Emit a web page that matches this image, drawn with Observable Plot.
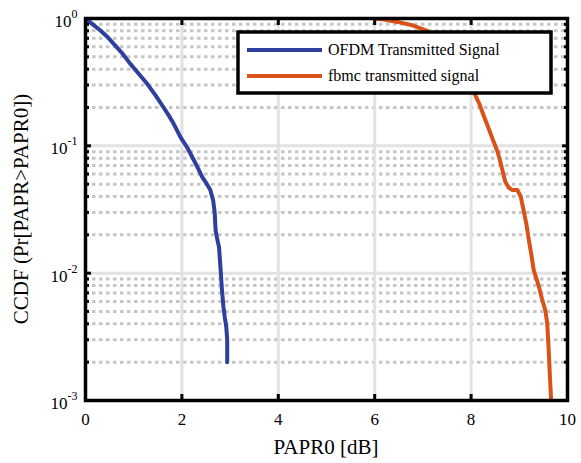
<!DOCTYPE html>
<html>
<head>
<meta charset="utf-8">
<script src="https://cdn.jsdelivr.net/npm/d3@7"></script>
<script src="https://cdn.jsdelivr.net/npm/@observablehq/plot@0.6"></script>
<style>
  html, body { margin: 0; padding: 0; background: #fff; }
  #chart svg { display: block; }
</style>
</head>
<body>
<div id="chart"></div>
<script>
// ---- data ----
const ofdmX = [0, 0.15, 0.31, 0.45, 0.59, 0.75, 0.93, 1.1, 1.28, 1.45, 1.62, 1.72, 1.83, 1.97, 2.11, 2.25, 2.34, 2.42, 2.52, 2.59, 2.65, 2.68, 2.70, 2.74, 2.77, 2.80, 2.83, 2.86, 2.89, 2.92, 2.94, 2.94];
const ofdmY = [1.0, 0.90, 0.805, 0.72, 0.63, 0.54, 0.44, 0.37, 0.307, 0.25, 0.20, 0.175, 0.149, 0.117, 0.097, 0.077, 0.066, 0.057, 0.050, 0.045, 0.037, 0.030, 0.0216, 0.018, 0.016, 0.0111, 0.0075, 0.0055, 0.0045, 0.0038, 0.003, 0.002];
const fbmcX = [5.98, 6.2, 6.47, 6.8, 7.09, 7.4, 7.7, 7.95, 8.09, 8.18, 8.26, 8.37, 8.47, 8.55, 8.61, 8.71, 8.78, 8.85, 8.96, 9.03, 9.09, 9.15, 9.2, 9.25, 9.30, 9.37, 9.42, 9.47, 9.54, 9.58, 9.61, 9.63, 9.66];
const fbmcY = [1.0, 0.98, 0.94, 0.88, 0.80, 0.65, 0.48, 0.33, 0.248, 0.21, 0.173, 0.135, 0.107, 0.09, 0.074, 0.052, 0.047, 0.045, 0.045, 0.040, 0.031, 0.024, 0.018, 0.014, 0.0105, 0.0087, 0.0075, 0.0063, 0.0051, 0.004, 0.0025, 0.0017, 0.001];

const seriesNames = ["OFDM Transmitted Signal", "fbmc transmitted signal"];
const xTicks = [0, 2, 4, 6, 8, 10];
const yTicks = [1e-3, 1e-2, 1e-1, 1];
const yMinor = [];
for (const dec of [1e-3, 1e-2, 1e-1]) for (let m = 2; m <= 9; m++) yMinor.push(m * dec);
const xLabel = "PAPR0 [dB]";
const yLabel = "CCDF (Pr[PAPR>PAPR0])";

// ---- styling ----
const blue = "#2e3f9e";
const orange = "#d95319";
const font = "'Liberation Serif', 'Times New Roman', serif";
const W = 581, H = 463;
const M = {top: 18, right: 14, bottom: 63, left: 85};

const ofdm = ofdmX.map((x, i) => ({x, y: ofdmY[i]}));
const fbmc = fbmcX.map((x, i) => ({x, y: fbmcY[i]}));

const empty = () => "";

const chart = Plot.plot({
  width: W, height: H,
  marginTop: M.top, marginRight: M.right, marginBottom: M.bottom, marginLeft: M.left,
  style: {fontFamily: font, background: "#fff", color: "#000"},
  x: {domain: [0, 10]},
  y: {type: "log", domain: [1e-3, 1]},
  marks: [
    Plot.ruleY(yMinor, {stroke: "#c6c6c6", strokeWidth: 3, strokeDasharray: "3.5,3.5"}),
    Plot.ruleX(xTicks.slice(1, -1), {stroke: "#e2e2e2", strokeWidth: 3}),
    Plot.ruleY(yTicks.slice(1, -1), {stroke: "#e2e2e2", strokeWidth: 3}),
    Plot.line(ofdm, {x: "x", y: "y", stroke: blue, strokeWidth: 4, clip: true}),
    Plot.line(fbmc, {x: "x", y: "y", stroke: orange, strokeWidth: 4, clip: true}),
    // inward ticks
    Plot.axisX(xTicks, {anchor: "bottom", tickSize: 6, dy: -6, tickFormat: empty, strokeWidth: 3, label: null}),
    Plot.axisX(xTicks, {anchor: "top", tickSize: 6, dy: 6, tickFormat: empty, strokeWidth: 3, label: null}),
    Plot.axisY(yTicks, {anchor: "left", tickSize: 6, dx: 6, tickFormat: empty, strokeWidth: 3, label: null}),
    Plot.axisY(yTicks, {anchor: "right", tickSize: 6, dx: -6, tickFormat: empty, strokeWidth: 3, label: null}),
    Plot.axisY(yMinor, {anchor: "left", tickSize: 4, dx: 4, tickFormat: empty, strokeWidth: 3, label: null}),
    Plot.axisY(yMinor, {anchor: "right", tickSize: 4, dx: -4, tickFormat: empty, strokeWidth: 3, label: null}),
    // tick labels
    Plot.axisX(xTicks, {anchor: "bottom", tickSize: 0, tickPadding: 12, fontSize: 17, label: null}),
    Plot.axisY(yTicks, {anchor: "left", tickSize: 0, tickPadding: 8, fontSize: 17, label: null,
      tickFormat: d => "10^" + Math.round(Math.log10(d))}),
    Plot.frame({stroke: "#000", strokeWidth: 3.5})
  ]
});

document.getElementById("chart").appendChild(chart);

const svg = d3.select(chart);

// superscript exponents on y tick labels
svg.selectAll("text").each(function() {
  const t = this.textContent;
  const m = /^10\^(-?\d+)$/.exec(t);
  if (!m) return;
  const el = d3.select(this);
  el.text(null);
  el.append("tspan").attr("dy", "3").text("10");
  el.append("tspan").attr("dy", "-9").attr("font-size", 12).text(m[1]);
});

// axis labels
const pw = W - M.left - M.right, ph = H - M.top - M.bottom;
svg.append("text")
  .attr("x", M.left + pw / 2).attr("y", 454)
  .attr("text-anchor", "middle")
  .attr("font-family", font).attr("font-size", 21).attr("fill", "#000")
  .text(xLabel);
svg.append("text")
  .attr("transform", `translate(28,${M.top + ph / 2}) rotate(-90)`)
  .attr("text-anchor", "middle")
  .attr("font-family", font).attr("font-size", 21).attr("fill", "#000")
  .text(yLabel);

// legend
const lg = svg.append("g").attr("transform", `translate(238,32)`);
lg.append("rect").attr("width", 313).attr("height", 61)
  .attr("fill", "#fff").attr("stroke", "#000").attr("stroke-width", 3.5);
[blue, orange].forEach((c, i) => {
  const yy = 18 + i * 26;
  lg.append("line").attr("x1", 9).attr("x2", 84).attr("y1", yy).attr("y2", yy)
    .attr("stroke", c).attr("stroke-width", 4);
  lg.append("text").attr("x", 90).attr("y", yy).attr("dy", "0.33em")
    .attr("text-anchor", "start")
    .attr("font-family", font).attr("font-size", 16).attr("fill", "#000")
    .text(seriesNames[i]);
});
</script>
</body>
</html>
